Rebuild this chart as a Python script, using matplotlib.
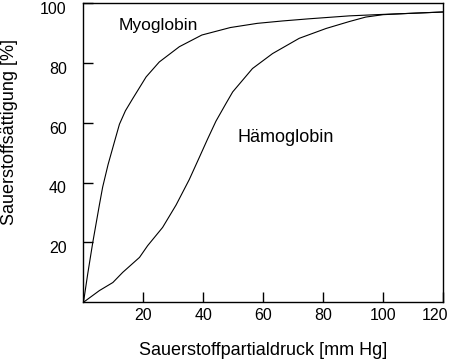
import matplotlib.pyplot as plt
import matplotlib.transforms as mtransforms

plt.rcParams['font.family'] = ['Liberation Sans', 'DejaVu Sans']

# Sauerstoffpartialdruck [mm Hg] / Saettigung [%]
myo_x = [0, 1.4, 3.1, 5.3, 6.4, 8.2, 10.3, 12, 14, 16.4, 20.9, 25.3, 32, 39.5, 49, 58, 66.4, 75, 88.7, 100, 108, 120]
myo_y = [0, 9.4, 20, 32.5, 38.5, 46, 53.5, 59.5, 64, 68, 75.3, 80.3, 85.4, 89.3, 91.8, 93.2, 94.0, 94.7, 95.7, 96.2, 96.5, 97]

hb_x = [0, 5.3, 9.8, 13.1, 18.7, 21.4, 26.4, 30.9, 35.3, 38.7, 41.4, 44.2, 47.6, 49.8, 56.4, 63.1, 72, 81, 88.7, 94.2, 100, 108, 120]
hb_y = [0, 3.9, 6.6, 10, 15, 18.9, 25, 32.5, 41, 48.5, 54.5, 60.5, 66.5, 70.3, 78.1, 83.1, 88.2, 91.5, 93.8, 95.3, 96.1, 96.5, 97]

xticks = [20, 40, 60, 80, 100, 120]
yticks = [20, 40, 60, 80, 100]

fig = plt.figure(figsize=(4.53, 3.62), dpi=100)
ax = fig.add_axes([0.1843, 0.165, 0.978 - 0.1843, 0.9917 - 0.165])

ax.plot(myo_x, myo_y, color='black', lw=0.8)
ax.plot(hb_x, hb_y, color='black', lw=0.8)

ax.text(25, 92.5, 'Myoglobin', fontsize=12.5, ha='center', va='center')
ax.text(67.5, 55, 'Hämoglobin', fontsize=13, ha='center', va='center')

ax.set_xlim(0, 120)
ax.set_ylim(0, 100)
ax.set_xticks(xticks)
ax.set_yticks(yticks)
ax.tick_params(direction='in', length=7, width=1, labelsize=11.5)
ax.tick_params(axis='y', pad=12)
ax.tick_params(axis='x', pad=4)
for s in ax.spines.values():
    s.set_linewidth(1.0)

# last x label sits a bit left of its tick so it fits the picture
lab = ax.get_xticklabels()[-1]
lab.set_transform(lab.get_transform() + mtransforms.ScaledTranslation(-6 / 72, 0, fig.dpi_scale_trans))
# y labels sit a little below their ticks
for lab in ax.get_yticklabels():
    lab.set_transform(lab.get_transform() + mtransforms.ScaledTranslation(0, -3.5 / 72, fig.dpi_scale_trans))

ax.set_xlabel('Sauerstoffpartialdruck [mm Hg]', fontsize=13, labelpad=14)
ax.set_ylabel('Sauerstoffsättigung [%]', fontsize=13)
ax.yaxis.set_label_coords(-0.181, 0.57)

fig.savefig('out.png', dpi=100)
